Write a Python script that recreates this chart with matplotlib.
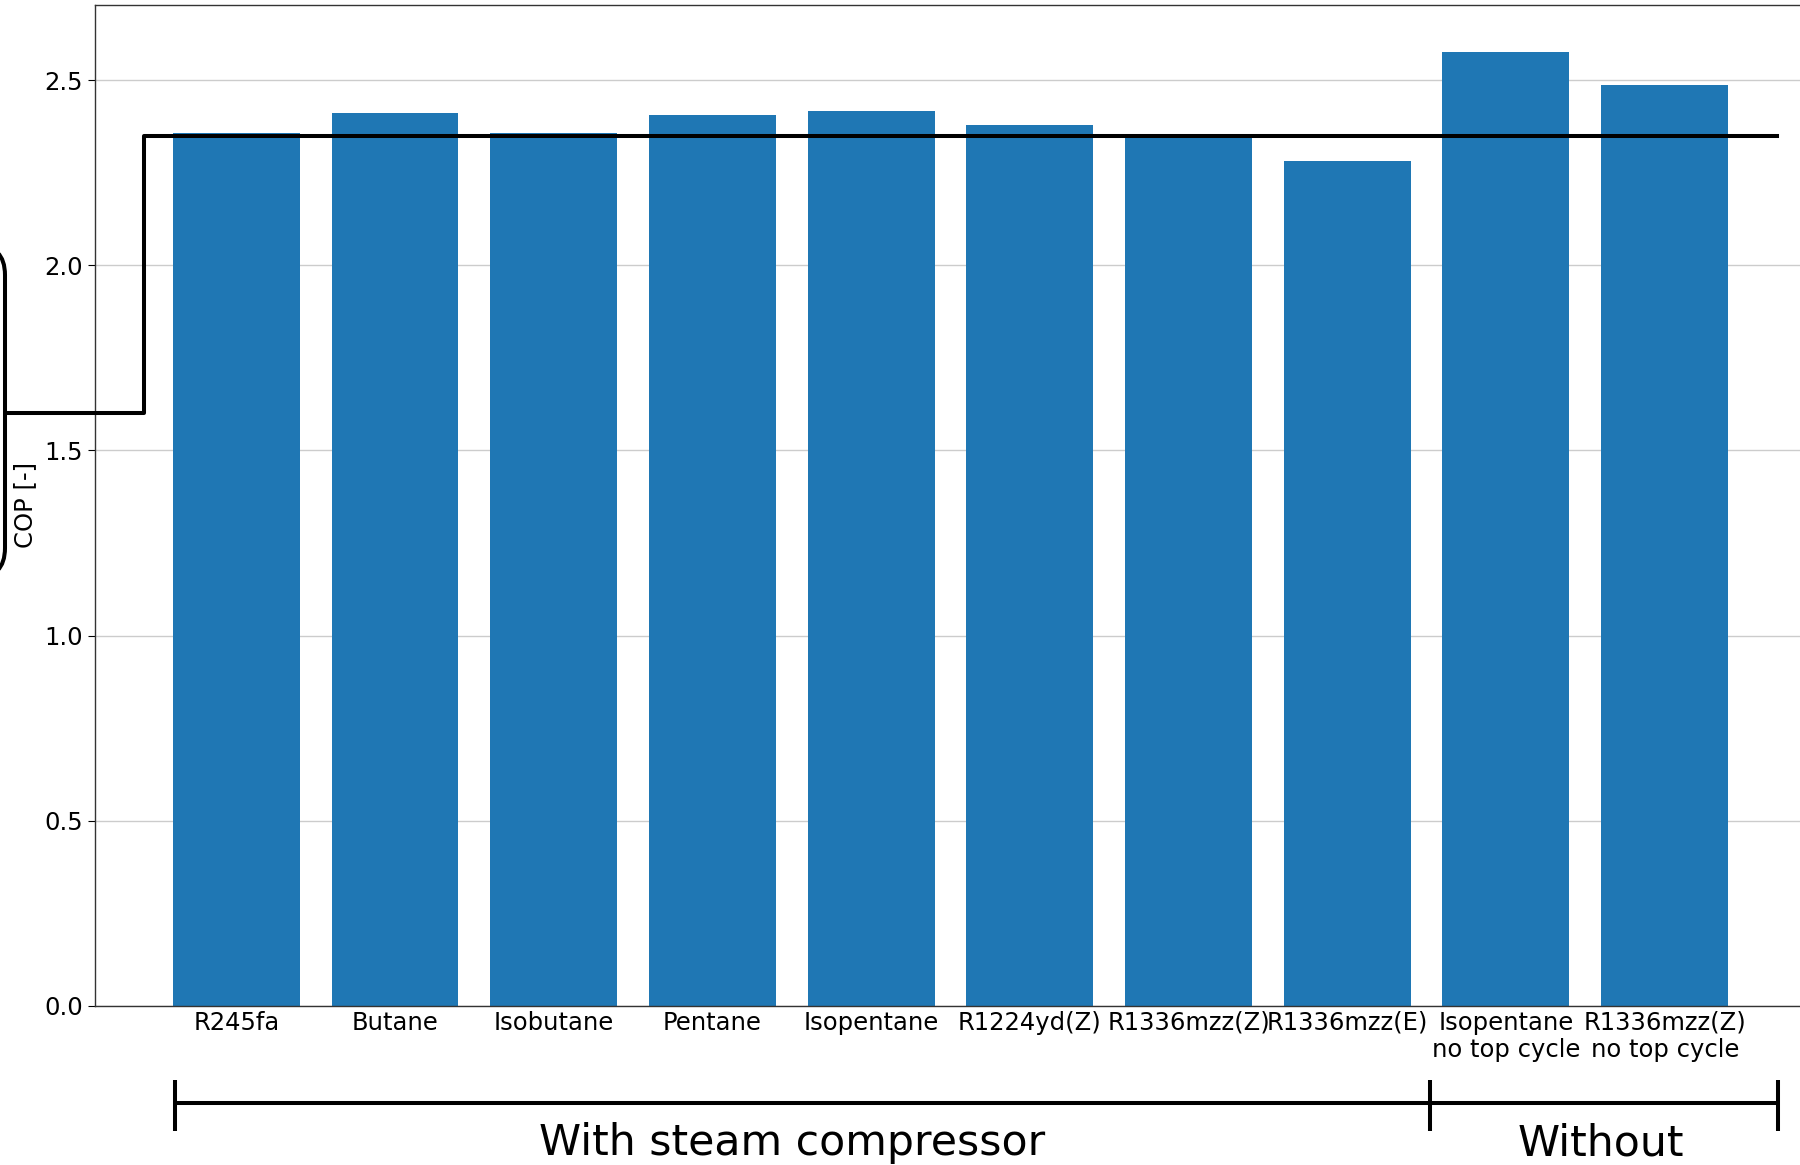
import matplotlib.pyplot as plt
from matplotlib.patches import FancyBboxPatch
from matplotlib.transforms import IdentityTransform

plt.rcParams['font.family'] = ['DejaVu Sans']

fluids = ['R245fa', 'Butane', 'Isobutane', 'Pentane', 'Isopentane',
          'R1224yd(Z)', 'R1336mzz(Z)', 'R1336mzz(E)',
          'Isopentane\nno top cycle', 'R1336mzz(Z)\nno top cycle']
cop = [2.356, 2.411, 2.357, 2.407, 2.417, 2.379, 2.345, 2.282, 2.575, 2.486]

# reference COP step line (data coords)
ref_x = [-1.45, -0.58, -0.58, 9.71]
ref_y = [1.60, 1.60, 2.35, 2.35]

# group brackets below the axis
group_edges = [-0.385, 7.52, 9.713]
group_names = ['With steam compressor', 'Without']
group_text_x = [3.5, 8.6]

fig = plt.figure(figsize=(18, 11.65), dpi=100)
ax = fig.add_axes([0.0528, 0.1367, 0.9505, 0.8593])

x = range(len(fluids))
ax.bar(x, cop, width=0.8, color='#1f77b4', zorder=2)
ax.set_xlim(-0.89, 9.89)
ax.set_ylim(0, 2.704)
ax.set_xticks(list(x))
ax.set_xticklabels(fluids, fontsize=17.5)
ax.tick_params(axis='x', length=0)
ax.tick_params(axis='y', labelsize=17.5, length=5)
ax.set_yticks([0.0, 0.5, 1.0, 1.5, 2.0, 2.5])
ax.set_ylabel('COP [-]', fontsize=17.5, labelpad=5)
ax.yaxis.grid(True, color='#cccccc', lw=1.0)
ax.set_axisbelow(True)
for s in ax.spines.values():
    s.set_color('#333333')
    s.set_linewidth(1.0)

ax.plot(ref_x, ref_y, color='black', lw=2.9, clip_on=False, zorder=5)

# bracket
tr = ax.get_xaxis_transform()
yb = -0.0973
ax.plot([group_edges[0], group_edges[-1]], [yb, yb], color='black', lw=2.9,
        transform=tr, clip_on=False, solid_capstyle='butt')
for e in group_edges:
    ax.plot([e, e], [yb - 0.028, yb + 0.023], color='black', lw=2.9,
            transform=tr, clip_on=False, solid_capstyle='butt')
for name, tx in zip(group_names, group_text_x):
    ax.text(tx, -0.1165, name, fontsize=30.7, ha='center', va='top',
            transform=tr)

# rounded box cut off at the left edge
box = FancyBboxPatch((-300, 587), 305, 333,
                     boxstyle='round,pad=0,rounding_size=30',
                     fill=False, ec='black', lw=2.9,
                     transform=IdentityTransform())
fig.patches.append(box)

fig.savefig('out.png', dpi=100)
